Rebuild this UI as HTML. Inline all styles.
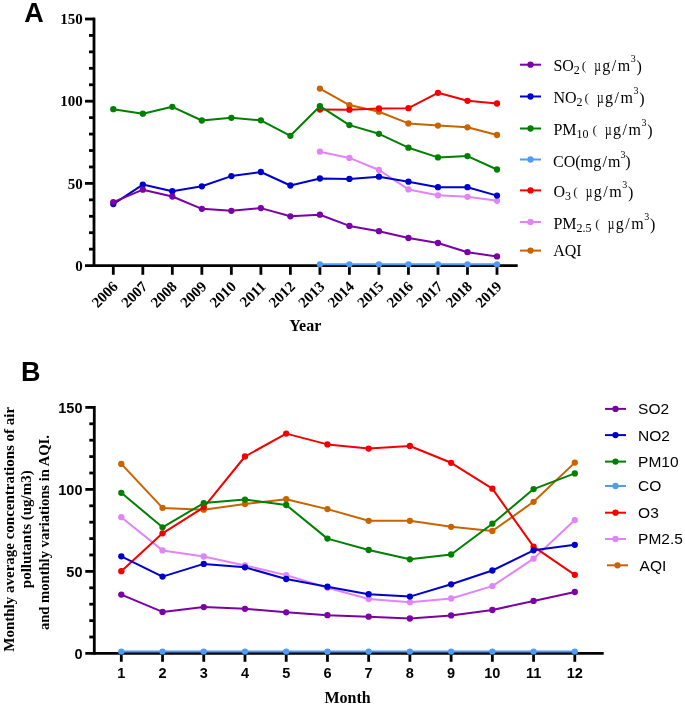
<!DOCTYPE html>
<html><head><meta charset="utf-8"><style>
html,body{margin:0;padding:0;background:#fff;}
body{width:685px;height:706px;overflow:hidden;}
svg{display:block;will-change:transform;}
</style></head><body>
<svg width="685" height="706" viewBox="0 0 685 706">
<rect width="685" height="706" fill="#fff"/>
<line x1="94.0" y1="17.6" x2="94.0" y2="267.0" stroke="#000" stroke-width="2.8"/>
<line x1="85" y1="265.6" x2="517.7" y2="265.6" stroke="#000" stroke-width="2.8"/>
<text x="82.8" y="270.70" text-anchor="end" font-family="Liberation Serif, serif" font-weight="bold" font-size="15">0</text>
<line x1="89" y1="249.16" x2="94.0" y2="249.16" stroke="#000" stroke-width="2.8"/>
<line x1="89" y1="232.72" x2="94.0" y2="232.72" stroke="#000" stroke-width="2.8"/>
<line x1="89" y1="216.28" x2="94.0" y2="216.28" stroke="#000" stroke-width="2.8"/>
<line x1="89" y1="199.84" x2="94.0" y2="199.84" stroke="#000" stroke-width="2.8"/>
<line x1="85" y1="183.40" x2="94.0" y2="183.40" stroke="#000" stroke-width="2.8"/>
<text x="82.8" y="188.50" text-anchor="end" font-family="Liberation Serif, serif" font-weight="bold" font-size="15">50</text>
<line x1="89" y1="166.96" x2="94.0" y2="166.96" stroke="#000" stroke-width="2.8"/>
<line x1="89" y1="150.52" x2="94.0" y2="150.52" stroke="#000" stroke-width="2.8"/>
<line x1="89" y1="134.08" x2="94.0" y2="134.08" stroke="#000" stroke-width="2.8"/>
<line x1="89" y1="117.64" x2="94.0" y2="117.64" stroke="#000" stroke-width="2.8"/>
<line x1="85" y1="101.20" x2="94.0" y2="101.20" stroke="#000" stroke-width="2.8"/>
<text x="82.8" y="106.30" text-anchor="end" font-family="Liberation Serif, serif" font-weight="bold" font-size="15">100</text>
<line x1="89" y1="84.76" x2="94.0" y2="84.76" stroke="#000" stroke-width="2.8"/>
<line x1="89" y1="68.32" x2="94.0" y2="68.32" stroke="#000" stroke-width="2.8"/>
<line x1="89" y1="51.88" x2="94.0" y2="51.88" stroke="#000" stroke-width="2.8"/>
<line x1="89" y1="35.44" x2="94.0" y2="35.44" stroke="#000" stroke-width="2.8"/>
<line x1="85" y1="19.00" x2="94.0" y2="19.00" stroke="#000" stroke-width="2.8"/>
<text x="82.8" y="24.10" text-anchor="end" font-family="Liberation Serif, serif" font-weight="bold" font-size="15">150</text>
<line x1="113.30" y1="265.6" x2="113.30" y2="274.8" stroke="#000" stroke-width="2.8"/>
<text x="118.90" y="287.40" text-anchor="end" transform="rotate(-45 118.90 287.40)" font-family="Liberation Serif, serif" font-weight="bold" font-size="15">2006</text>
<line x1="142.82" y1="265.6" x2="142.82" y2="274.8" stroke="#000" stroke-width="2.8"/>
<text x="148.42" y="287.40" text-anchor="end" transform="rotate(-45 148.42 287.40)" font-family="Liberation Serif, serif" font-weight="bold" font-size="15">2007</text>
<line x1="172.33" y1="265.6" x2="172.33" y2="274.8" stroke="#000" stroke-width="2.8"/>
<text x="177.93" y="287.40" text-anchor="end" transform="rotate(-45 177.93 287.40)" font-family="Liberation Serif, serif" font-weight="bold" font-size="15">2008</text>
<line x1="201.85" y1="265.6" x2="201.85" y2="274.8" stroke="#000" stroke-width="2.8"/>
<text x="207.45" y="287.40" text-anchor="end" transform="rotate(-45 207.45 287.40)" font-family="Liberation Serif, serif" font-weight="bold" font-size="15">2009</text>
<line x1="231.36" y1="265.6" x2="231.36" y2="274.8" stroke="#000" stroke-width="2.8"/>
<text x="236.96" y="287.40" text-anchor="end" transform="rotate(-45 236.96 287.40)" font-family="Liberation Serif, serif" font-weight="bold" font-size="15">2010</text>
<line x1="260.88" y1="265.6" x2="260.88" y2="274.8" stroke="#000" stroke-width="2.8"/>
<text x="266.48" y="287.40" text-anchor="end" transform="rotate(-45 266.48 287.40)" font-family="Liberation Serif, serif" font-weight="bold" font-size="15">2011</text>
<line x1="290.39" y1="265.6" x2="290.39" y2="274.8" stroke="#000" stroke-width="2.8"/>
<text x="295.99" y="287.40" text-anchor="end" transform="rotate(-45 295.99 287.40)" font-family="Liberation Serif, serif" font-weight="bold" font-size="15">2012</text>
<line x1="319.91" y1="265.6" x2="319.91" y2="274.8" stroke="#000" stroke-width="2.8"/>
<text x="325.51" y="287.40" text-anchor="end" transform="rotate(-45 325.51 287.40)" font-family="Liberation Serif, serif" font-weight="bold" font-size="15">2013</text>
<line x1="349.42" y1="265.6" x2="349.42" y2="274.8" stroke="#000" stroke-width="2.8"/>
<text x="355.02" y="287.40" text-anchor="end" transform="rotate(-45 355.02 287.40)" font-family="Liberation Serif, serif" font-weight="bold" font-size="15">2014</text>
<line x1="378.94" y1="265.6" x2="378.94" y2="274.8" stroke="#000" stroke-width="2.8"/>
<text x="384.54" y="287.40" text-anchor="end" transform="rotate(-45 384.54 287.40)" font-family="Liberation Serif, serif" font-weight="bold" font-size="15">2015</text>
<line x1="408.45" y1="265.6" x2="408.45" y2="274.8" stroke="#000" stroke-width="2.8"/>
<text x="414.05" y="287.40" text-anchor="end" transform="rotate(-45 414.05 287.40)" font-family="Liberation Serif, serif" font-weight="bold" font-size="15">2016</text>
<line x1="437.97" y1="265.6" x2="437.97" y2="274.8" stroke="#000" stroke-width="2.8"/>
<text x="443.57" y="287.40" text-anchor="end" transform="rotate(-45 443.57 287.40)" font-family="Liberation Serif, serif" font-weight="bold" font-size="15">2017</text>
<line x1="467.48" y1="265.6" x2="467.48" y2="274.8" stroke="#000" stroke-width="2.8"/>
<text x="473.08" y="287.40" text-anchor="end" transform="rotate(-45 473.08 287.40)" font-family="Liberation Serif, serif" font-weight="bold" font-size="15">2018</text>
<line x1="497.00" y1="265.6" x2="497.00" y2="274.8" stroke="#000" stroke-width="2.8"/>
<text x="502.60" y="287.40" text-anchor="end" transform="rotate(-45 502.60 287.40)" font-family="Liberation Serif, serif" font-weight="bold" font-size="15">2019</text>
<text x="305.3" y="331.4" text-anchor="middle" font-family="Liberation Serif, serif" font-weight="bold" font-size="16">Year</text>
<text x="24.3" y="21.7" font-family="Liberation Sans, sans-serif" font-weight="bold" font-size="27">A</text>
<path d="M319.91,88.60 L349.42,105.10 L378.94,111.70 L408.45,123.40 L437.97,125.60 L467.48,127.30 L497.00,135.00" fill="none" stroke="#c86400" stroke-width="2.0" stroke-linejoin="round"/>
<circle cx="319.91" cy="88.60" r="3.15" fill="#c86400"/>
<circle cx="349.42" cy="105.10" r="3.15" fill="#c86400"/>
<circle cx="378.94" cy="111.70" r="3.15" fill="#c86400"/>
<circle cx="408.45" cy="123.40" r="3.15" fill="#c86400"/>
<circle cx="437.97" cy="125.60" r="3.15" fill="#c86400"/>
<circle cx="467.48" cy="127.30" r="3.15" fill="#c86400"/>
<circle cx="497.00" cy="135.00" r="3.15" fill="#c86400"/>
<path d="M319.91,151.70 L349.42,157.90 L378.94,170.00 L408.45,189.40 L437.97,195.30 L467.48,196.80 L497.00,200.80" fill="none" stroke="#e184f8" stroke-width="2.0" stroke-linejoin="round"/>
<circle cx="319.91" cy="151.70" r="3.15" fill="#e184f8"/>
<circle cx="349.42" cy="157.90" r="3.15" fill="#e184f8"/>
<circle cx="378.94" cy="170.00" r="3.15" fill="#e184f8"/>
<circle cx="408.45" cy="189.40" r="3.15" fill="#e184f8"/>
<circle cx="437.97" cy="195.30" r="3.15" fill="#e184f8"/>
<circle cx="467.48" cy="196.80" r="3.15" fill="#e184f8"/>
<circle cx="497.00" cy="200.80" r="3.15" fill="#e184f8"/>
<path d="M319.91,109.60 L349.42,109.70 L378.94,108.50 L408.45,108.20 L437.97,92.80 L467.48,100.80 L497.00,103.50" fill="none" stroke="#f50000" stroke-width="2.0" stroke-linejoin="round"/>
<circle cx="319.91" cy="109.60" r="3.15" fill="#f50000"/>
<circle cx="349.42" cy="109.70" r="3.15" fill="#f50000"/>
<circle cx="378.94" cy="108.50" r="3.15" fill="#f50000"/>
<circle cx="408.45" cy="108.20" r="3.15" fill="#f50000"/>
<circle cx="437.97" cy="92.80" r="3.15" fill="#f50000"/>
<circle cx="467.48" cy="100.80" r="3.15" fill="#f50000"/>
<circle cx="497.00" cy="103.50" r="3.15" fill="#f50000"/>
<path d="M319.91,264.30 L349.42,264.30 L378.94,264.30 L408.45,264.30 L437.97,264.30 L467.48,264.30 L497.00,264.30" fill="none" stroke="#4f9cf5" stroke-width="2.0" stroke-linejoin="round"/>
<circle cx="319.91" cy="264.30" r="3.15" fill="#4f9cf5"/>
<circle cx="349.42" cy="264.30" r="3.15" fill="#4f9cf5"/>
<circle cx="378.94" cy="264.30" r="3.15" fill="#4f9cf5"/>
<circle cx="408.45" cy="264.30" r="3.15" fill="#4f9cf5"/>
<circle cx="437.97" cy="264.30" r="3.15" fill="#4f9cf5"/>
<circle cx="467.48" cy="264.30" r="3.15" fill="#4f9cf5"/>
<circle cx="497.00" cy="264.30" r="3.15" fill="#4f9cf5"/>
<path d="M113.30,109.20 L142.82,113.70 L172.33,106.80 L201.85,120.50 L231.36,117.80 L260.88,120.30 L290.39,135.80 L319.91,106.20 L349.42,125.10 L378.94,133.80 L408.45,147.70 L437.97,157.40 L467.48,156.10 L497.00,169.50" fill="none" stroke="#008000" stroke-width="2.0" stroke-linejoin="round"/>
<circle cx="113.30" cy="109.20" r="3.15" fill="#008000"/>
<circle cx="142.82" cy="113.70" r="3.15" fill="#008000"/>
<circle cx="172.33" cy="106.80" r="3.15" fill="#008000"/>
<circle cx="201.85" cy="120.50" r="3.15" fill="#008000"/>
<circle cx="231.36" cy="117.80" r="3.15" fill="#008000"/>
<circle cx="260.88" cy="120.30" r="3.15" fill="#008000"/>
<circle cx="290.39" cy="135.80" r="3.15" fill="#008000"/>
<circle cx="319.91" cy="106.20" r="3.15" fill="#008000"/>
<circle cx="349.42" cy="125.10" r="3.15" fill="#008000"/>
<circle cx="378.94" cy="133.80" r="3.15" fill="#008000"/>
<circle cx="408.45" cy="147.70" r="3.15" fill="#008000"/>
<circle cx="437.97" cy="157.40" r="3.15" fill="#008000"/>
<circle cx="467.48" cy="156.10" r="3.15" fill="#008000"/>
<circle cx="497.00" cy="169.50" r="3.15" fill="#008000"/>
<path d="M113.30,204.10 L142.82,184.60 L172.33,191.20 L201.85,186.30 L231.36,176.10 L260.88,172.00 L290.39,185.50 L319.91,178.50 L349.42,178.90 L378.94,176.70 L408.45,181.70 L437.97,187.20 L467.48,187.20 L497.00,195.60" fill="none" stroke="#0000cd" stroke-width="2.0" stroke-linejoin="round"/>
<circle cx="113.30" cy="204.10" r="3.15" fill="#0000cd"/>
<circle cx="142.82" cy="184.60" r="3.15" fill="#0000cd"/>
<circle cx="172.33" cy="191.20" r="3.15" fill="#0000cd"/>
<circle cx="201.85" cy="186.30" r="3.15" fill="#0000cd"/>
<circle cx="231.36" cy="176.10" r="3.15" fill="#0000cd"/>
<circle cx="260.88" cy="172.00" r="3.15" fill="#0000cd"/>
<circle cx="290.39" cy="185.50" r="3.15" fill="#0000cd"/>
<circle cx="319.91" cy="178.50" r="3.15" fill="#0000cd"/>
<circle cx="349.42" cy="178.90" r="3.15" fill="#0000cd"/>
<circle cx="378.94" cy="176.70" r="3.15" fill="#0000cd"/>
<circle cx="408.45" cy="181.70" r="3.15" fill="#0000cd"/>
<circle cx="437.97" cy="187.20" r="3.15" fill="#0000cd"/>
<circle cx="467.48" cy="187.20" r="3.15" fill="#0000cd"/>
<circle cx="497.00" cy="195.60" r="3.15" fill="#0000cd"/>
<path d="M113.30,202.20 L142.82,189.70 L172.33,196.50 L201.85,208.80 L231.36,210.80 L260.88,208.10 L290.39,216.30 L319.91,214.70 L349.42,225.90 L378.94,231.20 L408.45,238.00 L437.97,243.00 L467.48,252.20 L497.00,256.40" fill="none" stroke="#7b00a6" stroke-width="2.0" stroke-linejoin="round"/>
<circle cx="113.30" cy="202.20" r="3.15" fill="#7b00a6"/>
<circle cx="142.82" cy="189.70" r="3.15" fill="#7b00a6"/>
<circle cx="172.33" cy="196.50" r="3.15" fill="#7b00a6"/>
<circle cx="201.85" cy="208.80" r="3.15" fill="#7b00a6"/>
<circle cx="231.36" cy="210.80" r="3.15" fill="#7b00a6"/>
<circle cx="260.88" cy="208.10" r="3.15" fill="#7b00a6"/>
<circle cx="290.39" cy="216.30" r="3.15" fill="#7b00a6"/>
<circle cx="319.91" cy="214.70" r="3.15" fill="#7b00a6"/>
<circle cx="349.42" cy="225.90" r="3.15" fill="#7b00a6"/>
<circle cx="378.94" cy="231.20" r="3.15" fill="#7b00a6"/>
<circle cx="408.45" cy="238.00" r="3.15" fill="#7b00a6"/>
<circle cx="437.97" cy="243.00" r="3.15" fill="#7b00a6"/>
<circle cx="467.48" cy="252.20" r="3.15" fill="#7b00a6"/>
<circle cx="497.00" cy="256.40" r="3.15" fill="#7b00a6"/>
<line x1="520" y1="64.7" x2="541" y2="64.7" stroke="#7b00a6" stroke-width="2.0"/>
<circle cx="530.50" cy="64.7" r="3.15" fill="#7b00a6"/>
<line x1="520" y1="96.5" x2="541" y2="96.5" stroke="#0000cd" stroke-width="2.0"/>
<circle cx="530.50" cy="96.5" r="3.15" fill="#0000cd"/>
<line x1="520" y1="128.5" x2="541" y2="128.5" stroke="#008000" stroke-width="2.0"/>
<circle cx="530.50" cy="128.5" r="3.15" fill="#008000"/>
<line x1="520" y1="159.5" x2="541" y2="159.5" stroke="#4f9cf5" stroke-width="2.0"/>
<circle cx="530.50" cy="159.5" r="3.15" fill="#4f9cf5"/>
<line x1="520" y1="190.4" x2="541" y2="190.4" stroke="#f50000" stroke-width="2.0"/>
<circle cx="530.50" cy="190.4" r="3.15" fill="#f50000"/>
<line x1="520" y1="222.0" x2="541" y2="222.0" stroke="#e184f8" stroke-width="2.0"/>
<circle cx="530.50" cy="222.0" r="3.15" fill="#e184f8"/>
<line x1="520" y1="250.6" x2="541" y2="250.6" stroke="#c86400" stroke-width="2.0"/>
<circle cx="530.50" cy="250.6" r="3.15" fill="#c86400"/>
<text x="553.4" y="70.9" font-family="Liberation Serif, serif" font-size="16">SO<tspan dy="3.4" font-size="12">2</tspan></text>
<text x="581.80" y="70.40" font-family="Liberation Serif, serif" font-size="13.5" fill="#222">(</text>
<text transform="translate(594.20,70.9) scale(0.72,1)" font-family="Liberation Serif, serif" font-size="16">µ</text>
<text x="602.25" y="70.9" font-family="Liberation Serif, serif" font-size="16" textLength="27.9" lengthAdjust="spacing">g/m</text>
<text x="630.80" y="62.20" font-family="Liberation Serif, serif" font-size="10">3</text>
<text x="636.50" y="71.90" font-family="Liberation Serif, serif" font-size="16">)</text>
<text x="553.4" y="102.7" font-family="Liberation Serif, serif" font-size="16">NO<tspan dy="3.4" font-size="12">2</tspan></text>
<text x="584.50" y="102.20" font-family="Liberation Serif, serif" font-size="13.5" fill="#222">(</text>
<text transform="translate(596.90,102.7) scale(0.72,1)" font-family="Liberation Serif, serif" font-size="16">µ</text>
<text x="604.95" y="102.7" font-family="Liberation Serif, serif" font-size="16" textLength="27.9" lengthAdjust="spacing">g/m</text>
<text x="633.50" y="94.00" font-family="Liberation Serif, serif" font-size="10">3</text>
<text x="639.20" y="103.70" font-family="Liberation Serif, serif" font-size="16">)</text>
<text x="553.4" y="134.9" font-family="Liberation Serif, serif" font-size="16">PM<tspan dy="3.4" font-size="12">10</tspan></text>
<text x="592.50" y="134.40" font-family="Liberation Serif, serif" font-size="13.5" fill="#222">(</text>
<text transform="translate(604.90,134.9) scale(0.72,1)" font-family="Liberation Serif, serif" font-size="16">µ</text>
<text x="612.95" y="134.9" font-family="Liberation Serif, serif" font-size="16" textLength="27.9" lengthAdjust="spacing">g/m</text>
<text x="641.50" y="126.20" font-family="Liberation Serif, serif" font-size="10">3</text>
<text x="647.20" y="135.90" font-family="Liberation Serif, serif" font-size="16">)</text>
<text x="553.4" y="196.6" font-family="Liberation Serif, serif" font-size="16">O<tspan dy="3.4" font-size="12">3</tspan></text>
<text x="573.30" y="196.10" font-family="Liberation Serif, serif" font-size="13.5" fill="#222">(</text>
<text transform="translate(585.70,196.6) scale(0.72,1)" font-family="Liberation Serif, serif" font-size="16">µ</text>
<text x="593.75" y="196.6" font-family="Liberation Serif, serif" font-size="16" textLength="27.9" lengthAdjust="spacing">g/m</text>
<text x="622.30" y="187.90" font-family="Liberation Serif, serif" font-size="10">3</text>
<text x="628.00" y="197.60" font-family="Liberation Serif, serif" font-size="16">)</text>
<text x="553.4" y="228.6" font-family="Liberation Serif, serif" font-size="16">PM<tspan dy="3.4" font-size="12">2.5</tspan></text>
<text x="595.30" y="228.10" font-family="Liberation Serif, serif" font-size="13.5" fill="#222">(</text>
<text transform="translate(607.70,228.6) scale(0.72,1)" font-family="Liberation Serif, serif" font-size="16">µ</text>
<text x="615.75" y="228.6" font-family="Liberation Serif, serif" font-size="16" textLength="27.9" lengthAdjust="spacing">g/m</text>
<text x="644.30" y="219.90" font-family="Liberation Serif, serif" font-size="10">3</text>
<text x="650.00" y="229.60" font-family="Liberation Serif, serif" font-size="16">)</text>
<text x="553.0" y="167.0" font-family="Liberation Serif, serif" font-size="16">CO(m</text>
<text x="593.25" y="167.0" font-family="Liberation Serif, serif" font-size="16" textLength="27.2" lengthAdjust="spacing">g/m</text>
<text x="620.6" y="158.30" font-family="Liberation Serif, serif" font-size="10">3</text>
<text x="625.2" y="167.0" font-family="Liberation Serif, serif" font-size="16">)</text>
<text x="553.2" y="255.9" font-family="Liberation Serif, serif" font-size="16">AQI</text>
<line x1="94.3" y1="406.0" x2="94.3" y2="654.8" stroke="#000" stroke-width="2.8"/>
<line x1="85.3" y1="653.4" x2="603.7" y2="653.4" stroke="#000" stroke-width="2.8"/>
<text x="82.5" y="658.70" text-anchor="end" font-family="Liberation Sans, sans-serif" font-weight="bold" font-size="14.5">0</text>
<line x1="89.3" y1="637.00" x2="94.3" y2="637.00" stroke="#000" stroke-width="2.8"/>
<line x1="89.3" y1="620.60" x2="94.3" y2="620.60" stroke="#000" stroke-width="2.8"/>
<line x1="89.3" y1="604.20" x2="94.3" y2="604.20" stroke="#000" stroke-width="2.8"/>
<line x1="89.3" y1="587.80" x2="94.3" y2="587.80" stroke="#000" stroke-width="2.8"/>
<line x1="85.3" y1="571.40" x2="94.3" y2="571.40" stroke="#000" stroke-width="2.8"/>
<text x="82.5" y="576.70" text-anchor="end" font-family="Liberation Sans, sans-serif" font-weight="bold" font-size="14.5">50</text>
<line x1="89.3" y1="555.00" x2="94.3" y2="555.00" stroke="#000" stroke-width="2.8"/>
<line x1="89.3" y1="538.60" x2="94.3" y2="538.60" stroke="#000" stroke-width="2.8"/>
<line x1="89.3" y1="522.20" x2="94.3" y2="522.20" stroke="#000" stroke-width="2.8"/>
<line x1="89.3" y1="505.80" x2="94.3" y2="505.80" stroke="#000" stroke-width="2.8"/>
<line x1="85.3" y1="489.40" x2="94.3" y2="489.40" stroke="#000" stroke-width="2.8"/>
<text x="82.5" y="494.70" text-anchor="end" font-family="Liberation Sans, sans-serif" font-weight="bold" font-size="14.5">100</text>
<line x1="89.3" y1="473.00" x2="94.3" y2="473.00" stroke="#000" stroke-width="2.8"/>
<line x1="89.3" y1="456.60" x2="94.3" y2="456.60" stroke="#000" stroke-width="2.8"/>
<line x1="89.3" y1="440.20" x2="94.3" y2="440.20" stroke="#000" stroke-width="2.8"/>
<line x1="89.3" y1="423.80" x2="94.3" y2="423.80" stroke="#000" stroke-width="2.8"/>
<line x1="85.3" y1="407.40" x2="94.3" y2="407.40" stroke="#000" stroke-width="2.8"/>
<text x="82.5" y="412.70" text-anchor="end" font-family="Liberation Sans, sans-serif" font-weight="bold" font-size="14.5">150</text>
<line x1="121.30" y1="653.4" x2="121.30" y2="661.8" stroke="#000" stroke-width="2.8"/>
<text x="121.30" y="677.6" text-anchor="middle" font-family="Liberation Sans, sans-serif" font-weight="bold" font-size="14.5">1</text>
<line x1="162.53" y1="653.4" x2="162.53" y2="661.8" stroke="#000" stroke-width="2.8"/>
<text x="162.53" y="677.6" text-anchor="middle" font-family="Liberation Sans, sans-serif" font-weight="bold" font-size="14.5">2</text>
<line x1="203.75" y1="653.4" x2="203.75" y2="661.8" stroke="#000" stroke-width="2.8"/>
<text x="203.75" y="677.6" text-anchor="middle" font-family="Liberation Sans, sans-serif" font-weight="bold" font-size="14.5">3</text>
<line x1="244.98" y1="653.4" x2="244.98" y2="661.8" stroke="#000" stroke-width="2.8"/>
<text x="244.98" y="677.6" text-anchor="middle" font-family="Liberation Sans, sans-serif" font-weight="bold" font-size="14.5">4</text>
<line x1="286.21" y1="653.4" x2="286.21" y2="661.8" stroke="#000" stroke-width="2.8"/>
<text x="286.21" y="677.6" text-anchor="middle" font-family="Liberation Sans, sans-serif" font-weight="bold" font-size="14.5">5</text>
<line x1="327.44" y1="653.4" x2="327.44" y2="661.8" stroke="#000" stroke-width="2.8"/>
<text x="327.44" y="677.6" text-anchor="middle" font-family="Liberation Sans, sans-serif" font-weight="bold" font-size="14.5">6</text>
<line x1="368.66" y1="653.4" x2="368.66" y2="661.8" stroke="#000" stroke-width="2.8"/>
<text x="368.66" y="677.6" text-anchor="middle" font-family="Liberation Sans, sans-serif" font-weight="bold" font-size="14.5">7</text>
<line x1="409.89" y1="653.4" x2="409.89" y2="661.8" stroke="#000" stroke-width="2.8"/>
<text x="409.89" y="677.6" text-anchor="middle" font-family="Liberation Sans, sans-serif" font-weight="bold" font-size="14.5">8</text>
<line x1="451.12" y1="653.4" x2="451.12" y2="661.8" stroke="#000" stroke-width="2.8"/>
<text x="451.12" y="677.6" text-anchor="middle" font-family="Liberation Sans, sans-serif" font-weight="bold" font-size="14.5">9</text>
<line x1="492.35" y1="653.4" x2="492.35" y2="661.8" stroke="#000" stroke-width="2.8"/>
<text x="492.35" y="677.6" text-anchor="middle" font-family="Liberation Sans, sans-serif" font-weight="bold" font-size="14.5">10</text>
<line x1="533.57" y1="653.4" x2="533.57" y2="661.8" stroke="#000" stroke-width="2.8"/>
<text x="533.57" y="677.6" text-anchor="middle" font-family="Liberation Sans, sans-serif" font-weight="bold" font-size="14.5">11</text>
<line x1="574.80" y1="653.4" x2="574.80" y2="661.8" stroke="#000" stroke-width="2.8"/>
<text x="574.80" y="677.6" text-anchor="middle" font-family="Liberation Sans, sans-serif" font-weight="bold" font-size="14.5">12</text>
<text x="347.6" y="703.1" text-anchor="middle" font-family="Liberation Serif, serif" font-weight="bold" font-size="16">Month</text>
<text x="20.9" y="380.8" font-family="Liberation Sans, sans-serif" font-weight="bold" font-size="27">B</text>
<text x="13.8" y="529.3" text-anchor="middle" transform="rotate(-90 13.8 529.3)" font-family="Liberation Serif, serif" font-weight="bold" font-size="15">Monthly average concentrations of air</text>
<text x="31.4" y="529.2" text-anchor="middle" transform="rotate(-90 31.4 529.2)" font-family="Liberation Serif, serif" font-weight="bold" font-size="15">pollutants (ug/m3)</text>
<text x="49.0" y="532.6" text-anchor="middle" transform="rotate(-90 49.0 532.6)" font-family="Liberation Serif, serif" font-weight="bold" font-size="14.6">and monthly variations in AQI.</text>
<path d="M121.30,463.90 L162.53,507.90 L203.75,509.70 L244.98,504.00 L286.21,499.20 L327.44,509.10 L368.66,520.80 L409.89,520.80 L451.12,526.80 L492.35,531.00 L533.57,501.80 L574.80,462.60" fill="none" stroke="#c86400" stroke-width="2.0" stroke-linejoin="round"/>
<circle cx="121.30" cy="463.90" r="3.15" fill="#c86400"/>
<circle cx="162.53" cy="507.90" r="3.15" fill="#c86400"/>
<circle cx="203.75" cy="509.70" r="3.15" fill="#c86400"/>
<circle cx="244.98" cy="504.00" r="3.15" fill="#c86400"/>
<circle cx="286.21" cy="499.20" r="3.15" fill="#c86400"/>
<circle cx="327.44" cy="509.10" r="3.15" fill="#c86400"/>
<circle cx="368.66" cy="520.80" r="3.15" fill="#c86400"/>
<circle cx="409.89" cy="520.80" r="3.15" fill="#c86400"/>
<circle cx="451.12" cy="526.80" r="3.15" fill="#c86400"/>
<circle cx="492.35" cy="531.00" r="3.15" fill="#c86400"/>
<circle cx="533.57" cy="501.80" r="3.15" fill="#c86400"/>
<circle cx="574.80" cy="462.60" r="3.15" fill="#c86400"/>
<path d="M121.30,517.20 L162.53,550.40 L203.75,556.50 L244.98,565.50 L286.21,575.10 L327.44,587.80 L368.66,599.00 L409.89,602.30 L451.12,598.50 L492.35,586.10 L533.57,558.70 L574.80,520.10" fill="none" stroke="#e184f8" stroke-width="2.0" stroke-linejoin="round"/>
<circle cx="121.30" cy="517.20" r="3.15" fill="#e184f8"/>
<circle cx="162.53" cy="550.40" r="3.15" fill="#e184f8"/>
<circle cx="203.75" cy="556.50" r="3.15" fill="#e184f8"/>
<circle cx="244.98" cy="565.50" r="3.15" fill="#e184f8"/>
<circle cx="286.21" cy="575.10" r="3.15" fill="#e184f8"/>
<circle cx="327.44" cy="587.80" r="3.15" fill="#e184f8"/>
<circle cx="368.66" cy="599.00" r="3.15" fill="#e184f8"/>
<circle cx="409.89" cy="602.30" r="3.15" fill="#e184f8"/>
<circle cx="451.12" cy="598.50" r="3.15" fill="#e184f8"/>
<circle cx="492.35" cy="586.10" r="3.15" fill="#e184f8"/>
<circle cx="533.57" cy="558.70" r="3.15" fill="#e184f8"/>
<circle cx="574.80" cy="520.10" r="3.15" fill="#e184f8"/>
<path d="M121.30,571.20 L162.53,533.30 L203.75,507.30 L244.98,456.50 L286.21,433.60 L327.44,444.40 L368.66,448.60 L409.89,446.00 L451.12,462.80 L492.35,488.70 L533.57,546.70 L574.80,574.80" fill="none" stroke="#f50000" stroke-width="2.0" stroke-linejoin="round"/>
<circle cx="121.30" cy="571.20" r="3.15" fill="#f50000"/>
<circle cx="162.53" cy="533.30" r="3.15" fill="#f50000"/>
<circle cx="203.75" cy="507.30" r="3.15" fill="#f50000"/>
<circle cx="244.98" cy="456.50" r="3.15" fill="#f50000"/>
<circle cx="286.21" cy="433.60" r="3.15" fill="#f50000"/>
<circle cx="327.44" cy="444.40" r="3.15" fill="#f50000"/>
<circle cx="368.66" cy="448.60" r="3.15" fill="#f50000"/>
<circle cx="409.89" cy="446.00" r="3.15" fill="#f50000"/>
<circle cx="451.12" cy="462.80" r="3.15" fill="#f50000"/>
<circle cx="492.35" cy="488.70" r="3.15" fill="#f50000"/>
<circle cx="533.57" cy="546.70" r="3.15" fill="#f50000"/>
<circle cx="574.80" cy="574.80" r="3.15" fill="#f50000"/>
<path d="M121.30,651.60 L162.53,651.60 L203.75,651.60 L244.98,651.60 L286.21,651.60 L327.44,651.60 L368.66,651.60 L409.89,651.60 L451.12,651.60 L492.35,651.60 L533.57,651.60 L574.80,651.60" fill="none" stroke="#4f9cf5" stroke-width="2.0" stroke-linejoin="round"/>
<circle cx="121.30" cy="651.60" r="3.15" fill="#4f9cf5"/>
<circle cx="162.53" cy="651.60" r="3.15" fill="#4f9cf5"/>
<circle cx="203.75" cy="651.60" r="3.15" fill="#4f9cf5"/>
<circle cx="244.98" cy="651.60" r="3.15" fill="#4f9cf5"/>
<circle cx="286.21" cy="651.60" r="3.15" fill="#4f9cf5"/>
<circle cx="327.44" cy="651.60" r="3.15" fill="#4f9cf5"/>
<circle cx="368.66" cy="651.60" r="3.15" fill="#4f9cf5"/>
<circle cx="409.89" cy="651.60" r="3.15" fill="#4f9cf5"/>
<circle cx="451.12" cy="651.60" r="3.15" fill="#4f9cf5"/>
<circle cx="492.35" cy="651.60" r="3.15" fill="#4f9cf5"/>
<circle cx="533.57" cy="651.60" r="3.15" fill="#4f9cf5"/>
<circle cx="574.80" cy="651.60" r="3.15" fill="#4f9cf5"/>
<path d="M121.30,492.80 L162.53,527.30 L203.75,503.10 L244.98,499.60 L286.21,505.00 L327.44,538.60 L368.66,550.00 L409.89,559.30 L451.12,554.50 L492.35,523.70 L533.57,489.10 L574.80,473.40" fill="none" stroke="#008000" stroke-width="2.0" stroke-linejoin="round"/>
<circle cx="121.30" cy="492.80" r="3.15" fill="#008000"/>
<circle cx="162.53" cy="527.30" r="3.15" fill="#008000"/>
<circle cx="203.75" cy="503.10" r="3.15" fill="#008000"/>
<circle cx="244.98" cy="499.60" r="3.15" fill="#008000"/>
<circle cx="286.21" cy="505.00" r="3.15" fill="#008000"/>
<circle cx="327.44" cy="538.60" r="3.15" fill="#008000"/>
<circle cx="368.66" cy="550.00" r="3.15" fill="#008000"/>
<circle cx="409.89" cy="559.30" r="3.15" fill="#008000"/>
<circle cx="451.12" cy="554.50" r="3.15" fill="#008000"/>
<circle cx="492.35" cy="523.70" r="3.15" fill="#008000"/>
<circle cx="533.57" cy="489.10" r="3.15" fill="#008000"/>
<circle cx="574.80" cy="473.40" r="3.15" fill="#008000"/>
<path d="M121.30,556.30 L162.53,576.60 L203.75,563.90 L244.98,567.30 L286.21,579.00 L327.44,586.70 L368.66,594.20 L409.89,596.60 L451.12,584.30 L492.35,570.50 L533.57,550.30 L574.80,544.80" fill="none" stroke="#0000cd" stroke-width="2.0" stroke-linejoin="round"/>
<circle cx="121.30" cy="556.30" r="3.15" fill="#0000cd"/>
<circle cx="162.53" cy="576.60" r="3.15" fill="#0000cd"/>
<circle cx="203.75" cy="563.90" r="3.15" fill="#0000cd"/>
<circle cx="244.98" cy="567.30" r="3.15" fill="#0000cd"/>
<circle cx="286.21" cy="579.00" r="3.15" fill="#0000cd"/>
<circle cx="327.44" cy="586.70" r="3.15" fill="#0000cd"/>
<circle cx="368.66" cy="594.20" r="3.15" fill="#0000cd"/>
<circle cx="409.89" cy="596.60" r="3.15" fill="#0000cd"/>
<circle cx="451.12" cy="584.30" r="3.15" fill="#0000cd"/>
<circle cx="492.35" cy="570.50" r="3.15" fill="#0000cd"/>
<circle cx="533.57" cy="550.30" r="3.15" fill="#0000cd"/>
<circle cx="574.80" cy="544.80" r="3.15" fill="#0000cd"/>
<path d="M121.30,594.60 L162.53,611.90 L203.75,607.10 L244.98,608.80 L286.21,612.30 L327.44,615.20 L368.66,616.70 L409.89,618.50 L451.12,615.40 L492.35,610.00 L533.57,600.90 L574.80,592.00" fill="none" stroke="#7b00a6" stroke-width="2.0" stroke-linejoin="round"/>
<circle cx="121.30" cy="594.60" r="3.15" fill="#7b00a6"/>
<circle cx="162.53" cy="611.90" r="3.15" fill="#7b00a6"/>
<circle cx="203.75" cy="607.10" r="3.15" fill="#7b00a6"/>
<circle cx="244.98" cy="608.80" r="3.15" fill="#7b00a6"/>
<circle cx="286.21" cy="612.30" r="3.15" fill="#7b00a6"/>
<circle cx="327.44" cy="615.20" r="3.15" fill="#7b00a6"/>
<circle cx="368.66" cy="616.70" r="3.15" fill="#7b00a6"/>
<circle cx="409.89" cy="618.50" r="3.15" fill="#7b00a6"/>
<circle cx="451.12" cy="615.40" r="3.15" fill="#7b00a6"/>
<circle cx="492.35" cy="610.00" r="3.15" fill="#7b00a6"/>
<circle cx="533.57" cy="600.90" r="3.15" fill="#7b00a6"/>
<circle cx="574.80" cy="592.00" r="3.15" fill="#7b00a6"/>
<line x1="605" y1="408.9" x2="626" y2="408.9" stroke="#7b00a6" stroke-width="2.0"/>
<circle cx="615.50" cy="408.9" r="3.15" fill="#7b00a6"/>
<text x="638.1" y="414.30" font-family="Liberation Sans, sans-serif" font-size="15.5">SO2</text>
<line x1="605" y1="435.1" x2="626" y2="435.1" stroke="#0000cd" stroke-width="2.0"/>
<circle cx="615.50" cy="435.1" r="3.15" fill="#0000cd"/>
<text x="638.1" y="440.50" font-family="Liberation Sans, sans-serif" font-size="15.5">NO2</text>
<line x1="605" y1="461.6" x2="626" y2="461.6" stroke="#008000" stroke-width="2.0"/>
<circle cx="615.50" cy="461.6" r="3.15" fill="#008000"/>
<text x="638.1" y="467.00" font-family="Liberation Sans, sans-serif" font-size="15.5">PM10</text>
<line x1="605" y1="486.0" x2="626" y2="486.0" stroke="#4f9cf5" stroke-width="2.0"/>
<circle cx="615.50" cy="486.0" r="3.15" fill="#4f9cf5"/>
<text x="638.1" y="491.40" font-family="Liberation Sans, sans-serif" font-size="15.5">CO</text>
<line x1="605" y1="512.7" x2="626" y2="512.7" stroke="#f50000" stroke-width="2.0"/>
<circle cx="615.50" cy="512.7" r="3.15" fill="#f50000"/>
<text x="638.1" y="518.10" font-family="Liberation Sans, sans-serif" font-size="15.5">O3</text>
<line x1="605" y1="539.0" x2="626" y2="539.0" stroke="#e184f8" stroke-width="2.0"/>
<circle cx="615.50" cy="539.0" r="3.15" fill="#e184f8"/>
<text x="638.1" y="544.40" font-family="Liberation Sans, sans-serif" font-size="15.5">PM2.5</text>
<line x1="607" y1="565.3" x2="628" y2="565.3" stroke="#c86400" stroke-width="2.0"/>
<circle cx="617.50" cy="565.3" r="3.15" fill="#c86400"/>
<text x="639.6" y="570.70" font-family="Liberation Sans, sans-serif" font-size="15.5">AQI</text>
</svg>
</body></html>
